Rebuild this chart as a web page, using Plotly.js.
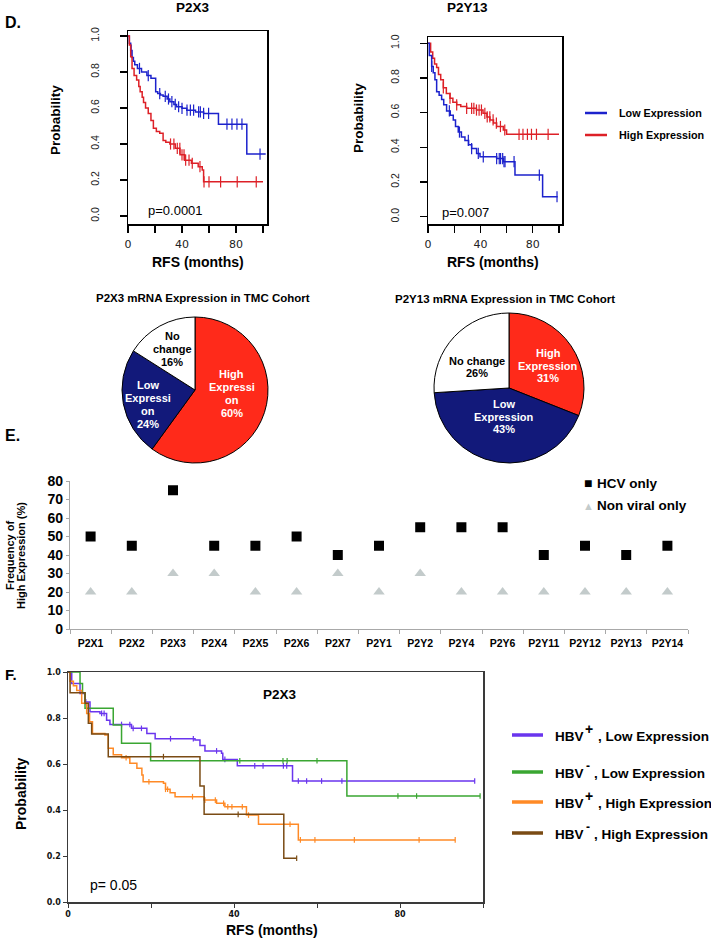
<!DOCTYPE html>
<html>
<head>
<meta charset="utf-8">
<script src="https://cdn.plot.ly/plotly-3.0.1.min.js"></script>
<style>html,body{margin:0;padding:0;background:#fff}#fig{width:711px;height:939px}</style>
</head>
<body>
<div id="fig"></div>
<script>
// ---- panel D : Kaplan-Meier, P2X3 ----
var p2x3LowT = [0, 1, 2, 3, 4, 5, 7, 10, 14, 17, 20.5, 22, 24, 26, 29, 31, 34, 36, 40, 43.5, 50, 56, 67, 88, 102];
var p2x3LowS = [1, 0.96, 0.92, 0.88, 0.86, 0.84, 0.82, 0.80, 0.78, 0.765, 0.69, 0.68, 0.672, 0.665, 0.65, 0.635, 0.62, 0.607, 0.598, 0.588, 0.578, 0.57, 0.51, 0.344, 0.344];
var p2x3LowCens = [2.3, 8.5, 15, 23.5, 27.6, 30, 32.5, 35, 37.5, 40, 43.7, 46.2, 48.6, 52.3, 53.6, 56, 59.7, 73.3, 77, 80.7, 84.4, 97.8];
var p2x3HighT = [0, 1, 2, 3, 4.5, 6.4, 8, 9, 10.5, 11.5, 13, 15, 17, 18.8, 21, 23.5, 26, 28, 31, 35, 38.5, 42, 47, 52, 55, 56, 100];
var p2x3HighS = [1, 0.95, 0.885, 0.82, 0.78, 0.755, 0.72, 0.69, 0.66, 0.63, 0.60, 0.57, 0.53, 0.487, 0.47, 0.46, 0.42, 0.41, 0.40, 0.376, 0.34, 0.31, 0.293, 0.274, 0.255, 0.19, 0.19];
var p2x3HighCens = [31.5, 34, 36.5, 38.4, 40, 41.5, 42.7, 45.2, 47.6, 53.3, 56.3, 60, 68.6, 80.9, 95];

// ---- panel D : Kaplan-Meier, P2Y13 ----
var p2y13HighT = [0, 2, 3.6, 5, 6.6, 8, 9.7, 11.7, 14, 16.8, 19, 21.9, 25, 29.5, 37, 42, 45, 47.3, 50, 52.4, 57.5, 60, 100];
var p2y13HighS = [1, 0.95, 0.914, 0.88, 0.86, 0.82, 0.79, 0.743, 0.71, 0.683, 0.66, 0.645, 0.635, 0.625, 0.615, 0.596, 0.575, 0.558, 0.54, 0.52, 0.50, 0.475, 0.475];
var p2y13HighCens = [11.7, 16.8, 21.9, 29.5, 33.3, 35, 37, 39, 40.8, 43.4, 45.2, 47.2, 49.7, 52.2, 55.3, 58.6, 69.5, 72.5, 75.9, 79, 82.8, 91.7];
var p2y13LowT = [0, 1, 2.8, 4, 5.3, 6.6, 8.5, 10.4, 12, 14.2, 17, 19.3, 21, 23.1, 25.5, 28.2, 31, 33.3, 37.1, 39.7, 52.4, 57.5, 66.4, 87.5, 99];
var p2y13LowS = [1, 0.93, 0.866, 0.83, 0.79, 0.72, 0.70, 0.675, 0.645, 0.61, 0.585, 0.558, 0.52, 0.488, 0.46, 0.44, 0.415, 0.393, 0.365, 0.345, 0.335, 0.317, 0.24, 0.115, 0.115];
var p2y13LowCens = [2.8, 16.3, 24, 30.8, 33.3, 38.4, 42.2, 52.4, 54.4, 55.4, 57, 58, 58.8, 65.7, 85, 98.5];

// ---- pies (TMC cohort) ----
var pieLabels = ['High Expression', 'Low Expression', 'No change'];
var p2x3Pie = [60, 24, 16];
var p2y13Pie = [31, 43, 26];

// ---- panel E ----
var receptors = ['P2X1', 'P2X2', 'P2X3', 'P2X4', 'P2X5', 'P2X6', 'P2X7', 'P2Y1', 'P2Y2', 'P2Y4', 'P2Y6', 'P2Y11', 'P2Y12', 'P2Y13', 'P2Y14'];
var hcvOnly = [50, 45, 75, 45, 45, 50, 40, 45, 55, 55, 55, 40, 45, 40, 45];
var nonViralOnly = [20, 20, 30, 30, 20, 20, 30, 20, 30, 20, 20, 20, 20, 20, 20];

// ---- panel F : P2X3 by HBV status ----
var hbvPosLowT = [0, 0.9, 2.9, 4.1, 5.3, 7.7, 9.3, 10.1, 15.3, 19, 21, 30.6, 31.8, 33, 37, 37.3, 40.8, 54.1, 98];
var hbvPosLowS = [1, 0.95, 0.907, 0.87, 0.827, 0.82, 0.79, 0.772, 0.755, 0.733, 0.71, 0.704, 0.68, 0.657, 0.647, 0.62, 0.592, 0.526, 0.526];
var hbvPosLowCens = [4.3, 8.1, 8.7, 12.9, 14.9, 15.7, 17.7, 24.7, 30.2, 35.8, 37.8, 45, 47, 51.9, 52.7, 55.5, 57.5, 61.1, 66, 98];
var hbvNegLowT = [0, 2.9, 3.5, 4.1, 10.9, 12.9, 19.9, 67.2, 99.3];
var hbvNegLowS = [1, 0.95, 0.91, 0.842, 0.77, 0.69, 0.614, 0.461, 0.461];
var hbvNegLowCens = [41.4, 51.8, 52.8, 60, 79.5, 84, 99.3];
var hbvPosHighT = [0, 0.5, 1.3, 2.1, 3.3, 4.5, 5.2, 5.9, 8.9, 9.7, 10.9, 12.9, 14.9, 16.6, 17.8, 18.1, 23, 23.5, 24.6, 25.8, 32.8, 35.8, 37.8, 43, 45.9, 55.5, 93.3];
var hbvPosHighS = [1, 0.96, 0.94, 0.92, 0.864, 0.82, 0.784, 0.733, 0.726, 0.668, 0.64, 0.627, 0.603, 0.581, 0.552, 0.523, 0.516, 0.49, 0.475, 0.458, 0.443, 0.429, 0.414, 0.378, 0.338, 0.27, 0.27];
var hbvPosHighCens = [14, 19.5, 23.5, 24, 30, 33, 35.5, 37.5, 38.5, 39.5, 42, 43.5, 53.5, 56, 59.5, 69, 84.6, 93.3];
var hbvNegHighT = [0, 0.5, 4.1, 4.9, 5.7, 9.7, 31.8, 32.8, 52, 55.1];
var hbvNegHighS = [1, 0.91, 0.864, 0.777, 0.73, 0.632, 0.504, 0.381, 0.19, 0.19];
var hbvNegHighCens = [23, 41, 55.1];

var W = 711, H = 939;
function px(v) { return v / W; }
function py(v) { return 1 - v / H; }

var ARIAL = 'Arial, "Liberation Sans", sans-serif';
var BLUE = '#1c22cc', RED = '#dd2027';
var PURPLE = '#6a35ee', GREEN = '#3aa632', ORANGE = '#ff8a26', BROWN = '#7a4b14';

// survival value of a step curve at time x
function stepAt(t, s, x) {
  var v = s[0];
  for (var i = 0; i < t.length; i++) if (t[i] <= x) v = s[i];
  return v;
}

function kmTraces(t, s, cens, color, xa, ya, tick, w) {
  return [
    { x: t, y: s, xaxis: xa, yaxis: ya, type: 'scatter', mode: 'lines',
      line: { color: color, width: w, shape: 'hv' }, hoverinfo: 'skip', showlegend: false },
    { x: cens, y: cens.map(function (c) { return stepAt(t, s, c); }), xaxis: xa, yaxis: ya,
      type: 'scatter', mode: 'markers', hoverinfo: 'skip', showlegend: false,
      marker: { symbol: 'line-ns-open', size: tick, color: color, line: { color: color, width: 1.2 } } }
  ];
}

var data = [];
data = data.concat(kmTraces(p2x3LowT, p2x3LowS, p2x3LowCens, BLUE, 'x', 'y', 8, 1.5));
data = data.concat(kmTraces(p2x3HighT, p2x3HighS, p2x3HighCens, RED, 'x', 'y', 8, 1.5));
data = data.concat(kmTraces(p2y13HighT, p2y13HighS, p2y13HighCens, RED, 'x2', 'y2', 8, 1.5));
data = data.concat(kmTraces(p2y13LowT, p2y13LowS, p2y13LowCens, BLUE, 'x2', 'y2', 8, 1.5));

var pieColors = ['#ff2a1a', '#12197a', '#ffffff'];
data.push({ type: 'pie', labels: pieLabels, values: p2x3Pie, sort: false, direction: 'clockwise', rotation: 0,
  textinfo: 'none', hoverinfo: 'skip', showlegend: false,
  marker: { colors: pieColors, line: { color: '#000', width: 1 } },
  domain: { x: [px(122), px(268)], y: [py(463), py(317)] } });
data.push({ type: 'pie', labels: pieLabels, values: p2y13Pie, sort: false, direction: 'clockwise', rotation: 0,
  textinfo: 'none', hoverinfo: 'skip', showlegend: false,
  marker: { colors: pieColors, line: { color: '#000', width: 1 } },
  domain: { x: [px(434), px(584)], y: [py(463), py(313)] } });

data.push({ x: receptors, y: hcvOnly, xaxis: 'x3', yaxis: 'y3', type: 'scatter', mode: 'markers',
  marker: { symbol: 'square', size: 10, color: '#000' }, hoverinfo: 'skip', showlegend: false });
data.push({ x: receptors, y: nonViralOnly, xaxis: 'x3', yaxis: 'y3', type: 'scatter', mode: 'markers',
  marker: { symbol: 'triangle-up', size: 10, color: '#c3cbcb' }, hoverinfo: 'skip', showlegend: false });

data = data.concat(kmTraces(hbvPosLowT, hbvPosLowS, hbvPosLowCens, PURPLE, 'x4', 'y4', 4, 1.5));
data = data.concat(kmTraces(hbvNegLowT, hbvNegLowS, hbvNegLowCens, GREEN, 'x4', 'y4', 4, 1.5));
data = data.concat(kmTraces(hbvPosHighT, hbvPosHighS, hbvPosHighCens, ORANGE, 'x4', 'y4', 4, 1.5));
data = data.concat(kmTraces(hbvNegHighT, hbvNegHighS, hbvNegHighCens, BROWN, 'x4', 'y4', 4, 1.5));

var probTicks = [0, 0.2, 0.4, 0.6, 0.8, 1.0];
var probText = ['0.0', '0.2', '0.4', '0.6', '0.8', '1.0'];
var monthTicks = [0, 40, 80];
var monthText = ['0', '40', '80'];

function dX(dom, range, anchor) {
  return { domain: dom, range: range, anchor: anchor, showline: true, mirror: true, linecolor: '#000', linewidth: 1.5,
    ticks: 'outside', ticklen: 7, tickwidth: 1.2, tickcolor: '#000', tickvals: monthTicks, ticktext: monthText,
    minor: { dtick: 20, tick0: 0, ticks: 'outside', ticklen: 7, tickwidth: 1.2, tickcolor: '#000', showgrid: false },
    tickfont: { family: '"DejaVu Sans", sans-serif', size: 11, color: '#222' }, ticklabelstandoff: 2,
    showgrid: false, zeroline: false, fixedrange: true };
}
function dY(dom, range, anchor) {
  return { domain: dom, range: range, anchor: anchor, showline: true, mirror: true, linecolor: '#000', linewidth: 1.5,
    ticks: 'outside', ticklen: 7, tickwidth: 1.2, tickcolor: '#000', tickvals: probTicks, ticktext: probText,
    tickangle: -90, ticklabelstandoff: 16,
    tickfont: { family: '"Liberation Sans Narrow", "Arial Narrow", ' + ARIAL, size: 10.5, color: '#222' },
    showgrid: false, zeroline: false, fixedrange: true };
}

var layout = {
  width: W, height: H, margin: { l: 0, r: 0, t: 0, b: 0 },
  paper_bgcolor: '#fff', plot_bgcolor: 'rgba(0,0,0,0)', showlegend: false,
  font: { family: ARIAL, color: '#000' },
  xaxis: dX([px(128), px(267)], [0, 102.96], 'y'),
  yaxis: dY([py(224), py(31)], [-0.0444, 1.0278], 'x'),
  xaxis2: dX([px(428), px(562)], [0, 102.3], 'y2'),
  yaxis2: dY([py(224), py(37)], [-0.042, 1.036], 'x2'),
  xaxis3: { domain: [px(70), px(688)], anchor: 'y3', type: 'category', range: [-0.5, 14.5],
    showline: true, linecolor: '#a8a8a8', linewidth: 1.2, ticks: 'outside', tickson: 'boundaries', ticklen: 4,
    tickcolor: '#a8a8a8', tickfont: { family: ARIAL, size: 10.5, weight: 'bold', color: '#000' }, ticklabelstandoff: 4,
    showgrid: false, zeroline: false, fixedrange: true },
  yaxis3: { domain: [py(629), py(481)], anchor: 'x3', range: [0, 80], dtick: 10,
    showline: true, linecolor: '#a8a8a8', linewidth: 1.2, ticks: 'outside', ticklen: 3, tickcolor: '#a8a8a8',
    tickfont: { family: ARIAL, size: 14, weight: 'bold', color: '#000' },
    showgrid: false, zeroline: false, fixedrange: true },
  xaxis4: { domain: [px(68), px(483)], anchor: 'y4', range: [0, 100], showline: true, mirror: true,
    linecolor: '#3a3a3a', linewidth: 1.5, ticks: 'outside', ticklen: 4, tickcolor: '#3a3a3a',
    tickvals: monthTicks, ticktext: monthText,
    minor: { dtick: 20, tick0: 0, ticks: 'outside', ticklen: 4, tickcolor: '#3a3a3a', showgrid: false },
    tickfont: { family: '"DejaVu Sans", sans-serif', size: 8, weight: 'bold', color: '#111' },
    showgrid: false, zeroline: false, fixedrange: true },
  yaxis4: { domain: [py(902), py(672)], anchor: 'x4', range: [0, 1], showline: true, mirror: true,
    linecolor: '#3a3a3a', linewidth: 1.5, ticks: 'outside', ticklen: 4, tickcolor: '#3a3a3a',
    tickvals: probTicks, ticktext: probText,
    tickfont: { family: '"DejaVu Sans", sans-serif', size: 8, weight: 'bold', color: '#111' },
    showgrid: false, zeroline: false, fixedrange: true },
  shapes: [],
  annotations: []
};

function note(text, x, y, opt) {
  opt = opt || {};
  layout.annotations.push({
    text: text, x: px(x), y: py(y), xref: 'paper', yref: 'paper', showarrow: false,
    xanchor: opt.xanchor || 'center', yanchor: 'middle', textangle: opt.angle || 0,
    font: { family: opt.family || ARIAL, size: opt.size || 12, color: opt.color || '#000', weight: opt.weight || 'bold' }
  });
}
// one annotation per line, for the tight leading of the pie labels
function lines(list, x, ys, opt) {
  list.forEach(function (t, i) { note(t, x, ys[i], opt); });
}
function legendLine(x0, x1, y, color, w) {
  layout.shapes.push({ type: 'line', xref: 'paper', yref: 'paper', x0: px(x0), x1: px(x1), y0: py(y), y1: py(y),
    line: { color: color, width: w } });
}

// panel letters
note('D.', 3, 22, { xanchor: 'left', size: 16 });
note('E.', 3, 435, { xanchor: 'left', size: 16 });
note('F.', 3, 674, { xanchor: 'left', size: 15 });

// panel D text
note('P2X3', 193, 8, { size: 13.5 });
note('P2Y13', 468, 7, { size: 13.5 });
note('Probability', 55, 120, { size: 13.5, angle: -90 });
note('Probability', 358, 118, { size: 13.5, angle: -90 });
note('RFS (months)', 198, 262, { size: 14 });
note('RFS (months)', 493, 262, { size: 14 });
note('p=0.0001', 175, 210, { size: 13, weight: 'normal' });
note('p=0.007', 466, 213, { size: 13, weight: 'normal' });
legendLine(585, 607, 113, BLUE, 2.5);
legendLine(585, 607, 135, RED, 2.5);
note('Low Expression', 617, 113, { xanchor: 'left', size: 10.8 });
note('High Expression', 617, 135, { xanchor: 'left', size: 10.8 });

// pies
note('P2X3 mRNA Expression in TMC Cohort', 203, 298, { size: 11.5 });
note('P2Y13 mRNA Expression in TMC Cohort', 505, 299, { size: 11.5 });
var W11 = { size: 11, color: '#fff' }, K11 = { size: 11 };
lines(['High', 'Expressi', 'on', p2x3Pie[0] + '%'], 232, [374, 387, 400, 413], W11);
lines(['Low', 'Expressi', 'on', p2x3Pie[1] + '%'], 148, [385, 398, 411, 424], W11);
lines(['No', 'change', p2x3Pie[2] + '%'], 172, [336, 349, 362], K11);
lines(['High', 'Expression', p2y13Pie[0] + '%'], 548, [353, 366, 378], W11);
lines(['Low', 'Expression', p2y13Pie[1] + '%'], 504, [404, 417, 429], W11);
lines(['No change', p2y13Pie[2] + '%'], 477, [361, 373], K11);

// panel E text
note('Frequency of', 10, 556, { size: 11, angle: -90 });
note('High Expression (%)', 21, 556, { size: 11, angle: -90 });
note('\u25A0', 588, 483, { size: 14 });
note('HCV only', 595, 483, { xanchor: 'left', size: 13.5 });
note('\u25B2', 588, 506, { size: 11, color: '#c3cbcb' });
note('Non viral only', 595, 506, { xanchor: 'left', size: 13.5 });

// panel F text
note('P2X3', 280, 694, { size: 13.5 });
note('p= 0.05', 113, 885, { size: 14, weight: 'normal' });
note('Probability', 21, 794, { size: 14, angle: -90 });
note('RFS (months)', 272, 930, { size: 14 });
// legend: HBV, raised sign, rest of label
var fLegend = [
  ['+', ', Low Expression', PURPLE, 735],
  ['-', ', Low Expression', GREEN, 772],
  ['+', ', High Expression', ORANGE, 802],
  ['-', ', High Expression', BROWN, 833]
];
fLegend.forEach(function (e) {
  legendLine(512, 543, e[3], e[2], 3.5);
  note('HBV', 553, e[3] + 1, { xanchor: 'left', size: 13.5 });
  if (e[0] === '+') note('+', 583, e[3] - 6, { xanchor: 'left', size: 14 });
  else note('-', 584, e[3] - 6, { xanchor: 'left', size: 12 });
  note(e[1], e[0] === '+' ? 596 : 592, e[3] + 1, { xanchor: 'left', size: 13.5 });
});

Plotly.newPlot('fig', data, layout, { staticPlot: true });
</script>
</body>
</html>
